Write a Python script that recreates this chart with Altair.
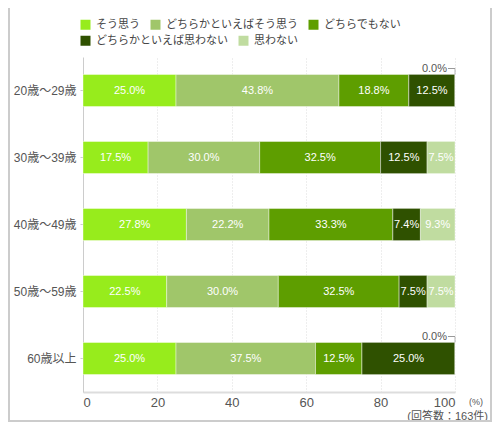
import altair as alt
import pandas as pd

# 年代別の回答割合 (%)
ages = ["20歳～29歳", "30歳～39歳", "40歳～49歳", "50歳～59歳", "60歳以上"]
answers = ["そう思う", "どちらかといえばそう思う", "どちらでもない",
           "どちらかといえば思わない", "思わない"]
colors = ["#97ec1c", "#a0c66a", "#5e9e00", "#2f5100", "#c0dca0"]

so_omou = [25.0, 17.5, 27.8, 22.5, 25.0]
dochira_so = [43.8, 30.0, 22.2, 30.0, 37.5]
dochira_demo = [18.8, 32.5, 33.3, 32.5, 12.5]
dochira_omowanai = [12.5, 12.5, 7.4, 7.5, 25.0]
omowanai = [0.0, 7.5, 9.3, 7.5, 0.0]

x_ticks = [0, 20, 40, 60, 80, 100]

FONT = "Liberation Sans, Noto Sans CJK JP, sans-serif"


def build_rows():
    series = [so_omou, dochira_so, dochira_demo, dochira_omowanai, omowanai]
    rows = []
    for i, age in enumerate(ages):
        start = 0.0
        for j, ans in enumerate(answers):
            v = series[j][i]
            end = min(start + v, 100.0)
            rows.append({"age": age, "answer": ans, "answer2": ans, "order": j,
                         "value": v, "start": start, "end": end,
                         "mid": (start + end) / 2, "label": f"{v:.1f}%"})
            start = end
    return pd.DataFrame(rows)


def legend_row(values, y):
    # 凡例は2段の流し組み: 1段ごとに別の凡例にする
    return alt.Legend(orient="none", legendX=-3, legendY=y, values=values,
                      direction="horizontal", symbolType="square",
                      symbolSize=100, symbolStrokeWidth=0,
                      labelFontSize=11, labelColor="#444", labelFont=FONT,
                      columnPadding=10, labelOffset=5)


df = build_rows()

y_enc = alt.Y("age:N", sort=ages, title=None,
              axis=alt.Axis(labelFontSize=12, labelColor="#555", labelFont=FONT,
                            domainColor="#ccc", tickColor="#ccc", tickSize=3,
                            labelPadding=4, grid=False))
x_enc = alt.X("start:Q", scale=alt.Scale(domain=[0, 100], nice=False), title=None,
              axis=alt.Axis(values=x_ticks, labelFontSize=13, labelColor="#555",
                            labelFont=FONT, domainColor="#ddd", domainWidth=2,
                            ticks=False, labelPadding=4, grid=True,
                            gridColor="#ddd", gridDash=[1, 2]))

bars = alt.Chart(df).mark_bar(height=32, stroke="white", strokeWidth=1,
                              strokeOpacity=0.4).encode(
    x=x_enc,
    x2="end:Q",
    y=y_enc,
    color=alt.Color("answer:N", scale=alt.Scale(domain=answers, range=colors),
                    title=None, legend=legend_row(answers[:3], -38)),
)

# 2段目の凡例用に同じ棒を fill で重ねる
bars2 = alt.Chart(df).transform_filter("datum.order >= 3").mark_bar(
    height=32, stroke="white", strokeWidth=1, strokeOpacity=0.4).encode(
    x="start:Q",
    x2="end:Q",
    y=alt.Y("age:N", sort=ages),
    fill=alt.Fill("answer2:N", scale=alt.Scale(domain=answers, range=colors),
                  title=None, legend=legend_row(answers[3:], -22)),
)

inner = alt.Chart(df).transform_filter("datum.value > 0").mark_text(
    color="white", fontSize=11, font=FONT
).encode(x="mid:Q", y=alt.Y("age:N", sort=ages), text="label:N")

zero = df[df["value"] == 0]
zero_text = alt.Chart(zero).mark_text(
    color="#555", fontSize=11, font=FONT, align="right", dx=-8, dy=-22
).encode(x="end:Q", y=alt.Y("age:N", sort=ages), text="label:N")
zero_h = alt.Chart(zero).mark_rule(color="#999", xOffset=-7, yOffset=-22).encode(
    x="end:Q", x2="end:Q", y=alt.Y("age:N", sort=ages))
zero_v = alt.Chart(zero).mark_tick(color="#999", thickness=1, size=6,
                                   yOffset=-19).encode(
    x="end:Q", y=alt.Y("age:N", sort=ages))

one = pd.DataFrame({"k": [0]})
pct = alt.Chart(one).mark_text(color="#555", fontSize=9, font=FONT,
                               align="left", baseline="middle").encode(
    x=alt.value(386), y=alt.value(345), text=alt.value("(%)"))
count = alt.Chart(one).mark_text(color="#555", fontSize=11, font=FONT,
                                 align="right", baseline="middle").encode(
    x=alt.value(405), y=alt.value(360), text=alt.value("(回答数：163件)"))

frame_l = alt.Chart(one).mark_rule(color="#ccc", strokeWidth=2).encode(
    x=alt.value(-74), y=alt.value(-49), y2=alt.value(364))
frame_b = alt.Chart(one).mark_rule(color="#ccc", strokeWidth=2).encode(
    x=alt.value(-75), x2=alt.value(409), y=alt.value(364))
frame_r = alt.Chart(one).mark_rule(color="#ccc", strokeWidth=2).encode(
    x=alt.value(408), y=alt.value(-49), y2=alt.value(364))

chart = alt.layer(
    bars, bars2, inner, zero_text, zero_h, zero_v, pct, count,
    frame_l, frame_b, frame_r
).resolve_scale(color="independent", fill="independent").resolve_legend(
    color="independent", fill="independent"
).properties(
    width=372, height=335,
    autosize=alt.AutoSizeParams(type="none"),
    padding={"left": 75, "top": 49, "right": 37, "bottom": 30},
).configure_view(stroke=None).configure_scale(bandPaddingInner=0.52)

chart.save("out.html", embed_options={"renderer": "svg", "actions": False})
